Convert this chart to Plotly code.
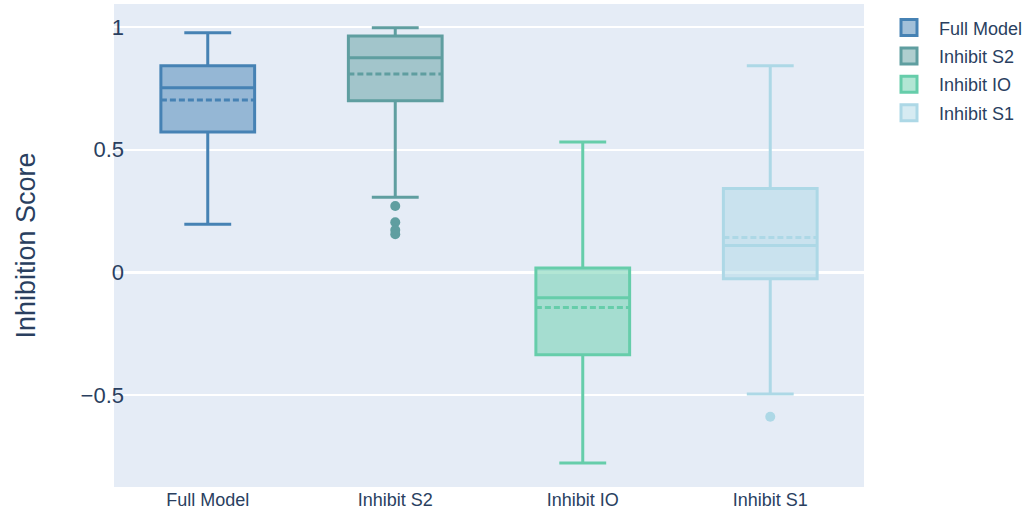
import plotly.graph_objects as go

categories = ["Full Model", "Inhibit S2", "Inhibit IO", "Inhibit S1"]
colors = ["#4682B4", "#5F9EA0", "#66CDAA", "#ADD8E6"]
fills = ["rgba(70,130,180,0.5)", "rgba(95,158,160,0.5)", "rgba(102,205,170,0.5)", "rgba(173,216,230,0.5)"]
q1 = [0.572, 0.699, -0.336, -0.026]
median = [0.752, 0.875, -0.104, 0.109]
q3 = [0.842, 0.964, 0.018, 0.342]
mean = [0.703, 0.809, -0.144, 0.142]
lowerfence = [0.196, 0.306, -0.778, -0.496]
upperfence = [0.977, 0.997, 0.531, 0.842]
outliers = [[], [0.27, 0.204, 0.172, 0.155], [], [-0.589]]

fig = go.Figure()
for i, c in enumerate(categories):
    fig.add_trace(go.Box(
        name=c, x=[c], q1=[q1[i]], median=[median[i]], q3=[q3[i]],
        mean=[mean[i]], lowerfence=[lowerfence[i]], upperfence=[upperfence[i]],
        boxmean=True, marker_color=colors[i], line=dict(color=colors[i], width=3),
        fillcolor=fills[i], boxpoints=False, width=0.5, showlegend=False,
        legendgroup=c,
    ))
for i, c in enumerate(categories):
    if outliers[i]:
        fig.add_trace(go.Scatter(
            x=[c] * len(outliers[i]), y=outliers[i], mode="markers",
            marker=dict(color=colors[i], size=10), showlegend=False,
            hoverinfo="y", legendgroup=c,
        ))
# legend entries
for i, c in enumerate(categories):
    fig.add_trace(go.Scatter(
        x=[None], y=[None], mode="markers", name=c, legendgroup=c,
        marker=dict(symbol="square", size=17, color=fills[i],
                    line=dict(color=colors[i], width=3)),
    ))

fig.update_layout(
    template="plotly",
    width=1026, height=510,
    margin=dict(l=114, r=162, t=4, b=23, autoexpand=False),
    font=dict(family="Liberation Sans, Arial, sans-serif", color="#2a3f5f"),
    yaxis=dict(title=dict(text="Inhibition Score", font=dict(size=27), standoff=37),
               tickfont=dict(size=22), range=[-0.8755, 1.094],
               tickvals=[-0.5, 0, 0.5, 1], ticktext=["\u22120.5", "0", "0.5", "1"],
               gridwidth=2, zerolinewidth=3, ticklabelstandoff=-11, automargin=False),
    xaxis=dict(tickfont=dict(size=18), categoryorder="array", categoryarray=categories,
               range=[-0.5, 3.5], automargin=False),
    legend=dict(font=dict(size=18), itemwidth=50, tracegroupgap=2,
                x=1.02, xanchor="left", y=0.989, yanchor="top"),
)
fig.write_html("out.html", post_script="document.body.style.margin='0';",
               config={"displayModeBar": False})
